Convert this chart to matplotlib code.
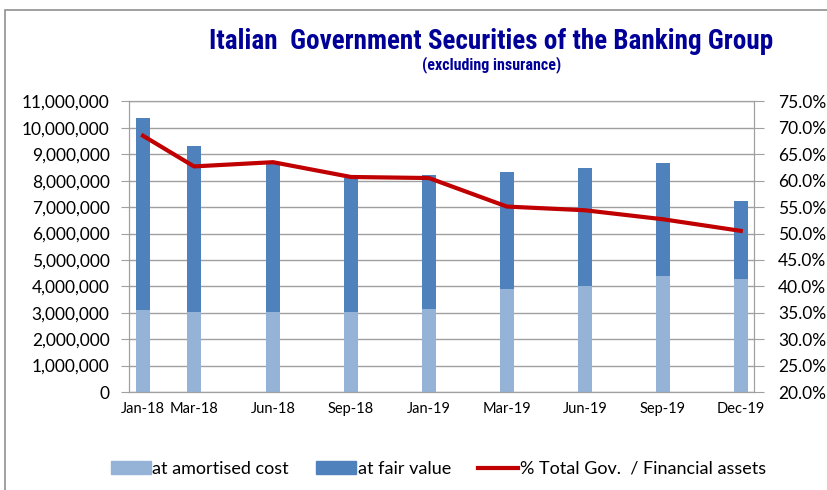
import numpy as np
import matplotlib.pyplot as plt
from matplotlib.patches import Patch, Rectangle
from matplotlib.lines import Line2D
from matplotlib.ticker import FuncFormatter

# data (millions of euro)
labels = ["Jan-18", "Mar-18", "Jun-18", "Sep-18", "Jan-19", "Mar-19", "Jun-19", "Sep-19", "Dec-19"]
amortised = [3.09, 3.01, 3.01, 3.01, 3.13, 3.91, 4.02, 4.41, 4.29]
total = [10.37, 9.32, 8.70, 8.12, 8.21, 8.34, 8.49, 8.67, 7.23]
pct_gov = [68.5, 62.7, 63.5, 60.7, 60.5, 55.1, 54.4, 52.7, 50.5]

amortised = np.array(amortised) * 1e6
fair = np.array(total) * 1e6 - amortised

# bar positions along the axis (the original axis is not evenly spaced)
xpos = [0, 0.654, 1.667, 2.667, 3.667, 4.667, 5.667, 6.667, 7.667]

c_amort = "#95B3D7"
c_fair = "#4F81BD"
c_line = "#C00000"
grid_c = "#a0a0a0"
tick_font = "Lato"
title_font = ["Roboto Condensed", "Liberation Sans Narrow", "Liberation Sans", "DejaVu Sans"]

fig = plt.figure(figsize=(8.27, 4.90), dpi=100)
ax = fig.add_axes([0.156, 0.2, 0.756, 0.593])

ax.bar(xpos, amortised, width=0.18, color=c_amort, zorder=2)
ax.bar(xpos, fair, width=0.18, bottom=amortised, color=c_fair, zorder=2)

ax.set_xlim(-0.18, 7.84)
ax.set_ylim(0, 11e6)
ax.set_yticks(np.arange(0, 11e6 + 1, 1e6))
ax.yaxis.set_major_formatter(FuncFormatter(lambda v, p: f"{int(v):,}"))
ax.set_xticks(xpos)
ax.set_xticklabels(labels)
ax.grid(axis="y", color=grid_c, linewidth=1, zorder=0)
ax.tick_params(axis="x", length=0, pad=7, labelsize=10.5)
ax.tick_params(axis="y", length=6, color=grid_c, labelsize=12.5, pad=8)
for s in ["left", "top", "right", "bottom"]:
    ax.spines[s].set_color(grid_c)
for t in ax.get_xticklabels() + ax.get_yticklabels():
    t.set_family(tick_font)

ax2 = ax.twinx()
ax2.plot(xpos, pct_gov, color=c_line, linewidth=3, zorder=5)
ax2.set_ylim(20, 75)
ax2.set_yticks(np.arange(20, 75.1, 5))
ax2.yaxis.set_major_formatter(FuncFormatter(lambda v, p: f"{v:.1f}%"))
ax2.tick_params(axis="y", length=7, color=grid_c, labelsize=12.5, pad=10)
for s in ["left", "top", "right", "bottom"]:
    ax2.spines[s].set_color(grid_c)
for t in ax2.get_yticklabels():
    t.set_family(tick_font)

fig.text(0.594, 0.916, "Italian  Government Securities of the Banking Group",
         ha="center", va="center", fontsize=19.5, fontweight="bold", color="#000099",
         family=title_font)
fig.text(0.594, 0.868, "(excluding insurance)", ha="center", va="center",
         fontsize=11.5, fontweight="bold", color="#000099", family=title_font)

handles = [Patch(color=c_amort), Patch(color=c_fair), Line2D([], [], color=c_line, linewidth=3)]
names = ["at amortised cost", "at fair value", "% Total Gov.  / Financial assets"]
fig.legend(handles, names, loc="center", bbox_to_anchor=(0.53, 0.043), ncol=3,
           frameon=False, prop={"family": tick_font, "size": 13},
           handlelength=2.2, handletextpad=0.1, columnspacing=1.5)

# outer chart frame
fig.patches.append(Rectangle((5 / 827, -0.1), 1.0, 1 - 10 / 490 + 0.1,
                             transform=fig.transFigure, fill=False,
                             edgecolor="#909090", linewidth=1.2))

fig.savefig("out.png", dpi=100)
